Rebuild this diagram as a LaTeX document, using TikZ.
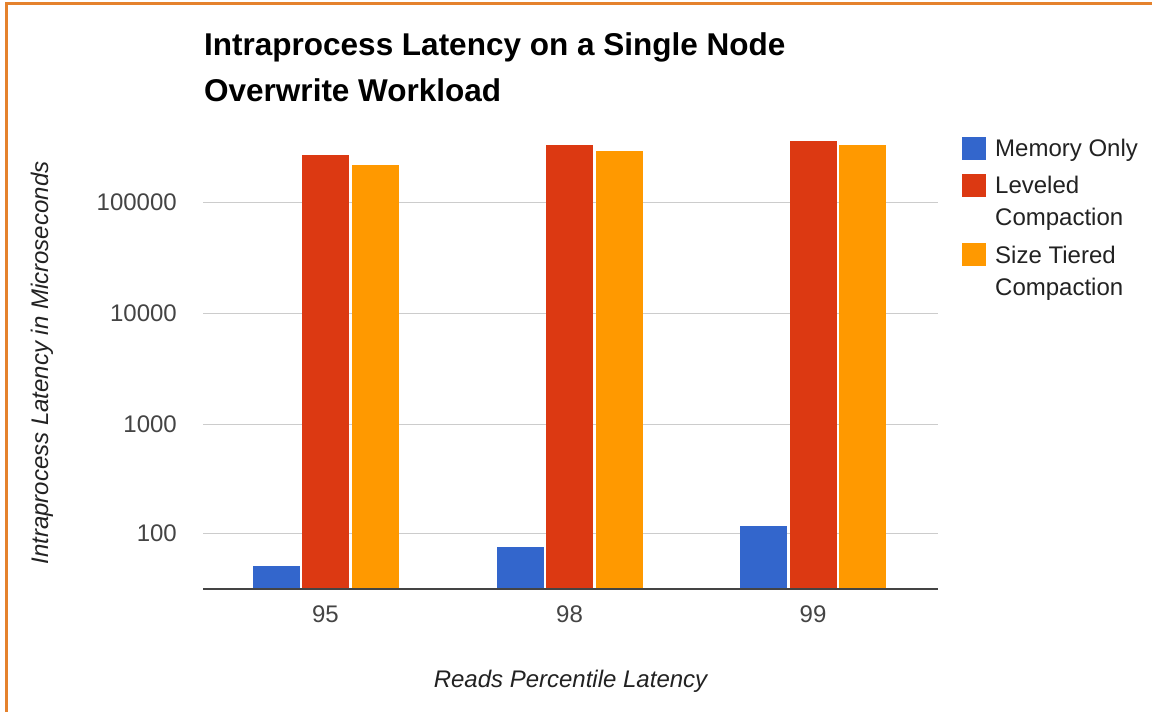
\documentclass[tikz,border=0pt]{standalone}
\usepackage{fontspec}
\setmainfont{Liberation Sans}
\definecolor{memblue}{HTML}{3366CC}
\definecolor{levred}{HTML}{DC3912}
\definecolor{stcsorange}{HTML}{FF9900}
\definecolor{frameorange}{HTML}{E5822D}
\definecolor{gridgray}{HTML}{CCCCCC}
\definecolor{axisgray}{HTML}{444444}
\definecolor{ticktext}{HTML}{444444}
\definecolor{labeltext}{HTML}{222222}
\begin{document}
\begin{tikzpicture}[x=1pt,y=-1pt,
  gridline/.style={draw=gridgray,line width=1.5pt},
  baseline axis/.style={draw=axisgray,line width=2pt},
  ticklabel/.style={font=\fontsize{24}{28}\selectfont,text=ticktext,inner sep=0pt},
  legendtext/.style={font=\fontsize{24}{28}\selectfont,text=labeltext,inner sep=0pt,anchor=base west},
  axistitle/.style={font=\fontsize{24}{28}\selectfont\itshape,text=labeltext,inner sep=0pt},
  charttitle/.style={font=\fontsize{31.5}{36}\selectfont\bfseries,text=black,inner sep=0pt,anchor=base west}]
\useasboundingbox (0,0) rectangle (1152,712);
\fill[white] (0,0) rectangle (1152,712);
% frame
\draw[frameorange,line width=2.5pt] (6.5,712) -- (6.5,3.5) -- (1152,3.5);

% title
\node[charttitle] (title1) at (204,55) {Intraprocess Latency on a Single Node};
\node[charttitle] (title2) at (204,101) {Overwrite Workload};

% gridlines (log scale, one decade = 110.33)
\foreach \yy/\lab/\nm in {202.3/100000/g5,313.3/10000/g4,424.3/1000/g3,533.3/100/g2}{
  \draw[gridline] (203,\yy) -- (938,\yy);
  \node[ticklabel,anchor=east] (\nm) at (177,\yy) {\lab};
}

% bars: group centre / blue top / red top / orange top
\foreach \cx/\tb/\tr/\to/\lab/\nm in {325.5/566/155/165/95/x95,569.5/546.5/145/151/98/x98,813/526/141/145/99/x99}{
  \fill[memblue] (\cx-73,588.5) rectangle (\cx-26,\tb);
  \fill[levred] (\cx-23.5,588.5) rectangle (\cx+23.5,\tr);
  \fill[stcsorange] (\cx+26,588.5) rectangle (\cx+73,\to);
  \node[ticklabel] (\nm) at (\cx,614) {\lab};
}

% baseline
\draw[baseline axis] (203,588.5) -- (938,588.5);

% axis titles
\node[axistitle,anchor=base] (xtitle) at (570.5,687) {Reads Percentile Latency};
\node[axistitle,rotate=90] (ytitle) at (42,363) {Intraprocess Latency in Microseconds};

% legend
\fill[memblue] (961.5,136.5) rectangle (985.5,159.5);
\fill[levred] (961.5,173.5) rectangle (985.5,196.5);
\fill[stcsorange] (961.5,242.5) rectangle (985.5,265.5);
\node[legendtext] (leg1) at (995,156.5) {Memory Only};
\node[legendtext] (leg2a) at (995,193.5) {Leveled};
\node[legendtext] (leg2b) at (995,225.5) {Compaction};
\node[legendtext] (leg3a) at (995,263.5) {Size Tiered};
\node[legendtext] (leg3b) at (995,295.5) {Compaction};
\end{tikzpicture}
\end{document}
